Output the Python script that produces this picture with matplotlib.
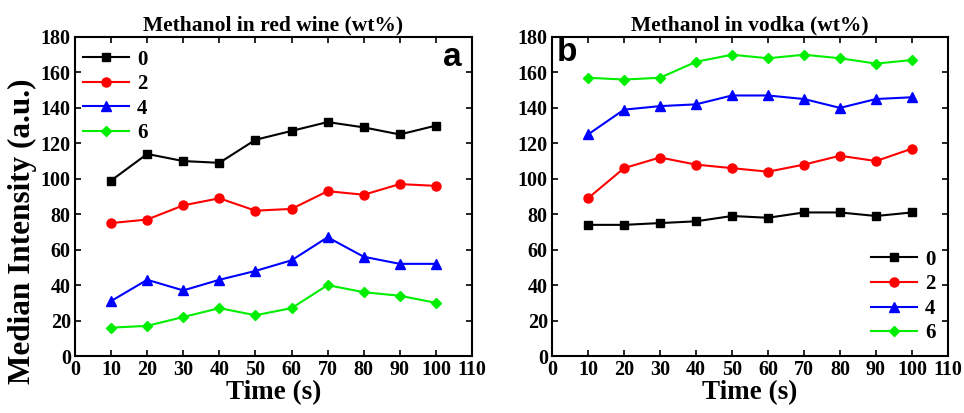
import matplotlib
matplotlib.use("Agg")
import matplotlib.pyplot as plt

time_s = [10, 20, 30, 40, 50, 60, 70, 80, 90, 100]
labels = ["0", "2", "4", "6"]

wine_0 = [99, 114, 110, 109, 122, 127, 132, 129, 125, 130]
wine_2 = [75, 77, 85, 89, 82, 83, 93, 91, 97, 96]
wine_4 = [31, 43, 37, 43, 48, 54, 67, 56, 52, 52]
wine_6 = [16, 17, 22, 27, 23, 27, 40, 36, 34, 30]

vodka_0 = [74, 74, 75, 76, 79, 78, 81, 81, 79, 81]
vodka_2 = [89, 106, 112, 108, 106, 104, 108, 113, 110, 117]
vodka_4 = [125, 139, 141, 142, 147, 147, 145, 140, 145, 146]
vodka_6 = [157, 156, 157, 166, 170, 168, 170, 168, 165, 167]

colors = ["#000000", "#ff0000", "#0000ff", "#00ee00"]
markers = ["s", "o", "^", "D"]
msizes = [5.5, 6.5, 6.5, 5.5]

plt.rcParams['font.family'] = ['Liberation Serif', 'DejaVu Serif']
plt.rcParams['font.weight'] = 'bold'

fig = plt.figure(figsize=(9.64, 4.13), dpi=100)
W, H = 964, 413
ax1 = fig.add_axes([75 / W, 1 - 356 / H, (472 - 75) / W, (356 - 37) / H])
ax2 = fig.add_axes([552 / W, 1 - 356 / H, (948 - 552) / W, (356 - 37) / H])

def draw(ax, series, title, letter, lx, ly, legloc, legbbox):
    for s, c, m, ms, lab in zip(series, colors, markers, msizes, labels):
        ax.plot(time_s, s, color=c, marker=m, markersize=ms, linewidth=1.5, label=lab)
    ax.set_xlim(0, 110)
    ax.set_ylim(0, 180)
    ax.set_xticks(range(0, 111, 10))
    ax.set_yticks(range(0, 181, 20))
    ax.tick_params(direction='in', top=True, right=True, length=4, width=1.2,
                   labelsize=14.5, pad=3)
    for lbl in ax.get_xticklabels() + ax.get_yticklabels():
        lbl.set_fontweight('bold')
    for sp in ax.spines.values():
        sp.set_linewidth(1.5)
    ax.set_title(title, fontsize=15.5, fontweight='bold', pad=5)
    ax.set_xlabel("Time (s)", fontsize=19.5, fontweight='bold', labelpad=0)
    ax.text(lx, ly, letter, transform=ax.transAxes, fontsize=24, fontweight='bold',
            family=['Liberation Sans', 'DejaVu Sans'], va='top',
            ha='right' if lx > 0.5 else 'left')
    leg = ax.legend(loc=legloc, bbox_to_anchor=legbbox, frameon=False,
                    prop={'size': 15, 'weight': 'bold'}, handlelength=2.2,
                    handletextpad=0.4, labelspacing=0.22, borderaxespad=0.2)
    return leg

draw(ax1, [wine_0, wine_2, wine_4, wine_6], "Methanol in red wine (wt%)", "a", 0.975, 0.985,
     'upper left', (-0.012, 1.0))
draw(ax2, [vodka_0, vodka_2, vodka_4, vodka_6], "Methanol in vodka (wt%)", "b", 0.012, 1.0,
     'lower right', (1.0, 0.0))
ax1.set_ylabel("Median Intensity (a.u.)", fontsize=22.5, fontweight='bold')
ax1.yaxis.set_label_coords(-0.095, 0.39)

fig.savefig("out.png", dpi=100)
